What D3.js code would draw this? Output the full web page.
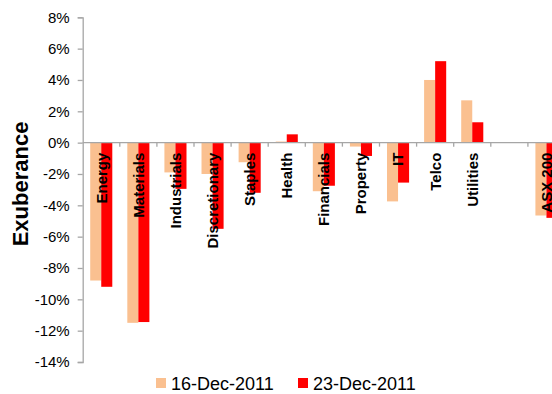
<!DOCTYPE html>
<html>
<head>
<meta charset="utf-8">
<script src="https://cdn.jsdelivr.net/npm/d3@7"></script>
<style>
  body { margin: 0; background: #fff; }
  svg { display: block; font-family: "Liberation Sans", Arial, sans-serif; }
</style>
</head>
<body>
<div id="chart"></div>
<script>
// Data
// ==============================
var categories = ["Energy", "Materials", "Industrials", "Discretionary", "Staples", "Health",
  "Financials", "Property", "IT", "Telco", "Utilities", "", "ASX 200"];
var dec16 = [-8.8, -11.5, -1.9, -2.0, -1.25, 0.07, -3.1, -0.25, -3.75, 4.0, 2.7, null, -4.65];
var dec23 = [-9.2, -11.45, -2.95, -5.5, -3.2, 0.53, -2.75, -0.85, -2.55, 5.2, 1.3, null, -4.8];
var seriesNames = ["16-Dec-2011", "23-Dec-2011"];
var seriesColors = ["#FAC090", "#FF0000"];
var yTicks = [-14, -12, -10, -8, -6, -4, -2, 0, 2, 4, 6, 8];

var svgWidth = 552, svgHeight = 394;

var svg = d3.select("#chart").append("svg")
  .attr("width", svgWidth)
  .attr("height", svgHeight);

// Scales
// ==============================
// plot runs past the right edge (ASX 200 gets clipped like in the original)
var xScale = d3.scaleBand()
  .domain(d3.range(categories.length))
  .range([82.7, 565])
  .paddingInner(0).paddingOuter(0);

var xInner = d3.scaleBand()
  .domain([0, 1])
  .range([0, xScale.bandwidth()])
  .paddingInner(0).paddingOuter(0.68);

var yScale = d3.scaleLinear()
  .domain([-14, 8])
  .range([362, 17.3]);

// Bars
// ==============================
var rows = [];
categories.forEach(function(c, i) {
  [dec16, dec23].forEach(function(arr, s) {
    if (arr[i] !== null) rows.push({ i: i, s: s, v: arr[i] });
  });
});

svg.append("g").selectAll("rect")
  .data(rows)
  .enter()
  .append("rect")
  .attr("x", d => xScale(d.i) + xInner(d.s))
  .attr("width", xInner.bandwidth())
  .attr("y", d => yScale(Math.max(0, d.v)))
  .attr("height", d => Math.abs(yScale(d.v) - yScale(0)))
  .attr("fill", d => seriesColors[d.s]);

// Axes
// ==============================
var axisColor = "#A6A6A6";

var leftAxis = d3.axisLeft(yScale)
  .tickValues(yTicks)
  .tickSize(5)
  .tickPadding(8)
  .tickFormat(d => d + "%");

var yAxis = svg.append("g")
  .attr("transform", "translate(82.7,0)")
  .call(leftAxis);
yAxis.select(".domain").attr("stroke", axisColor).attr("stroke-width", 1.3);
yAxis.selectAll(".tick line").attr("stroke", axisColor).attr("stroke-width", 1.3);
yAxis.selectAll(".tick text")
  .attr("fill", "#000")
  .style("font-size", "15px")
  .style("font-family", "'Liberation Sans', Arial, sans-serif");

// zero line with ticks between categories
var zeroY = yScale(0);
svg.append("line")
  .attr("x1", 82.7).attr("x2", 565)
  .attr("y1", zeroY).attr("y2", zeroY)
  .attr("stroke", axisColor).attr("stroke-width", 1.3);

svg.append("g").selectAll("line")
  .data(d3.range(1, categories.length + 1))
  .enter()
  .append("line")
  .attr("x1", d => xScale.range()[0] + d * xScale.step())
  .attr("x2", d => xScale.range()[0] + d * xScale.step())
  .attr("y1", zeroY)
  .attr("y2", zeroY + 4)
  .attr("stroke", axisColor).attr("stroke-width", 1.3);

// Category labels (rotated, hanging just under the zero line)
svg.append("g").selectAll("text")
  .data(categories)
  .enter()
  .append("text")
  .attr("transform", (d, i) =>
    `translate(${xScale(i) + xScale.bandwidth() / 2}, ${zeroY + 10}) rotate(-90)`)
  .attr("text-anchor", "end")
  .attr("dy", "0.36em")
  .style("font-size", "15px")
  .style("font-weight", "bold")
  .text(d => d);

// Y axis title
svg.append("text")
  .attr("transform", "translate(28, 184) rotate(-90)")
  .attr("text-anchor", "middle")
  .style("font-size", "22px")
  .style("font-weight", "bold")
  .text("Exuberance");

// Legend
// ==============================
var legendX = [156, 298];
var legend = svg.append("g").selectAll("g")
  .data(seriesNames)
  .enter()
  .append("g")
  .attr("transform", (d, i) => `translate(${legendX[i]}, 378)`);

legend.append("rect")
  .attr("width", 10).attr("height", 10)
  .attr("fill", (d, i) => seriesColors[i]);

legend.append("text")
  .attr("x", 15)
  .attr("y", 11.5)
  .style("font-size", "18px")
  .text(d => d);
</script>
</body>
</html>
